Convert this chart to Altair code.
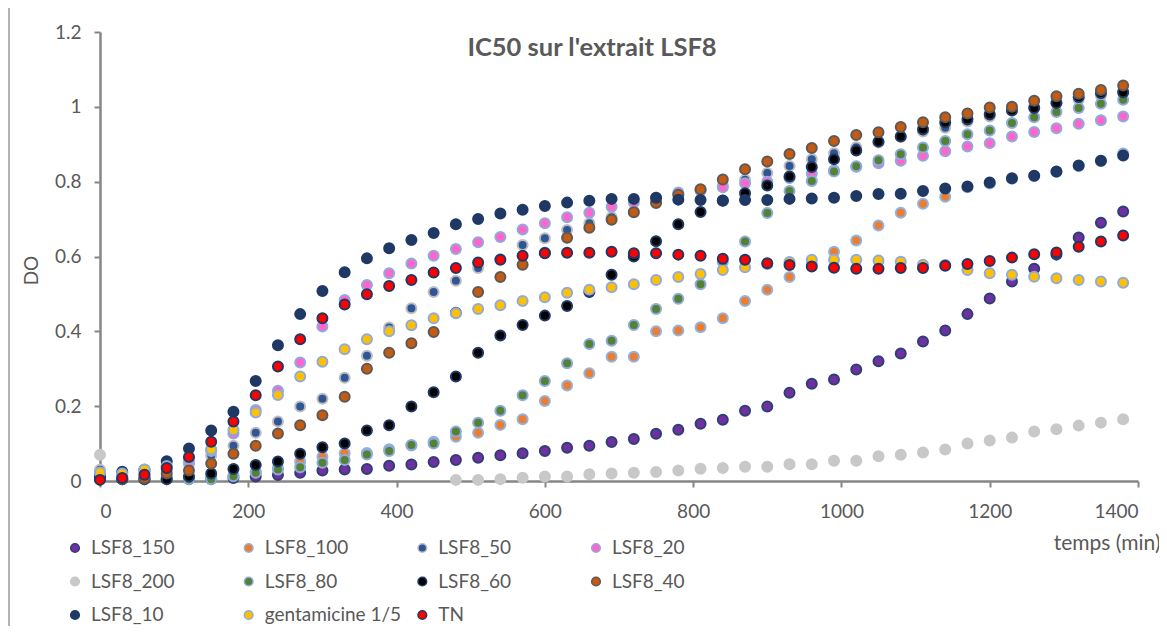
import altair as alt
import pandas as pd

temps = [0, 30, 60, 90, 120, 150, 180, 210, 240, 270,
         300, 330, 360, 390, 420, 450, 480, 510, 540, 570,
         600, 630, 660, 690, 720, 750, 780, 810, 840, 870,
         900, 930, 960, 990, 1020, 1050, 1080, 1110, 1140, 1170,
         1200, 1230, 1260, 1290, 1320, 1350, 1380]

lsf8_150 = [0.01, 0.005, 0.005, 0.005, 0.005, 0.005, 0.008, 0.012, 0.016, 0.022,
            0.028, 0.031, 0.032, 0.041, 0.044, 0.051, 0.056, 0.062, 0.069, 0.074,
            0.08, 0.089, 0.094, 0.104, 0.112, 0.126, 0.137, 0.153, 0.164, 0.188,
            0.199, 0.236, 0.26, 0.271, 0.298, 0.32, 0.341, 0.373, 0.402, 0.446,
            0.488, 0.533, 0.567, 0.605, 0.651, 0.69, 0.72]
lsf8_100 = [0.02, 0.01, 0.01, 0.01, 0.01, 0.01, 0.015, 0.025, 0.035, 0.052,
            0.065, 0.074, 0.075, 0.085, 0.095, 0.105, 0.118, 0.129, 0.15, 0.165,
            0.214, 0.255, 0.288, 0.332, 0.332, 0.40, 0.402, 0.411, 0.435, 0.481,
            0.511, 0.545, 0.58, 0.613, 0.643, 0.683, 0.717, 0.741, 0.76, 0.785,
            0.795, 0.808, 0.815, 0.826, 0.842, 0.855, 0.875]
lsf8_50 = [0.03, 0.02, 0.025, 0.04, 0.045, 0.068, 0.094, 0.129, 0.159, 0.199,
           0.22, 0.276, 0.335, 0.41, 0.462, 0.505, 0.535, 0.569, 0.593, 0.631,
           0.649, 0.671, 0.689, 0.705, 0.72, 0.745, 0.765, 0.775, 0.79, 0.805,
           0.823, 0.842, 0.86, 0.876, 0.892, 0.905, 0.92, 0.934, 0.944, 0.961,
           0.974, 0.99, 1.0, 1.01, 1.02, 1.03, 1.04]
lsf8_20 = [0.02, 0.015, 0.02, 0.03, 0.05, 0.08, 0.127, 0.19, 0.241, 0.317,
           0.413, 0.484, 0.524, 0.555, 0.581, 0.602, 0.62, 0.638, 0.652, 0.672,
           0.689, 0.705, 0.717, 0.733, 0.745, 0.757, 0.771, 0.778, 0.785, 0.796,
           0.80, 0.81, 0.822, 0.83, 0.84, 0.849, 0.856, 0.869, 0.881, 0.894,
           0.903, 0.921, 0.933, 0.943, 0.955, 0.964, 0.974]
lsf8_200 = [0.07, None, None, None, None, None, None, None, None, None,
            None, None, None, None, None, None, 0.003, 0.003, 0.005, 0.009,
            0.012, 0.012, 0.018, 0.02, 0.022, 0.024, 0.028, 0.033, 0.035, 0.038,
            0.038, 0.045, 0.045, 0.054, 0.054, 0.066, 0.07, 0.076, 0.084, 0.1,
            0.108, 0.116, 0.132, 0.138, 0.148, 0.156, 0.165]
lsf8_80 = [0.02, 0.01, 0.01, 0.005, 0.005, 0.005, 0.013, 0.022, 0.031, 0.037,
           0.049, 0.056, 0.071, 0.08, 0.096, 0.1, 0.132, 0.156, 0.188, 0.229,
           0.267, 0.315, 0.366, 0.375, 0.417, 0.46, 0.487, 0.526, 0.585, 0.64,
           0.716, 0.775, 0.802, 0.827, 0.841, 0.857, 0.873, 0.891, 0.909, 0.927,
           0.937, 0.957, 0.972, 0.986, 0.997, 1.008, 1.019]
lsf8_60 = [0.01, 0.005, 0.005, 0.005, 0.012, 0.02, 0.032, 0.043, 0.052, 0.073,
           0.09, 0.1, 0.135, 0.149, 0.199, 0.237, 0.279, 0.343, 0.389, 0.417,
           0.442, 0.468, 0.505, 0.551, 0.60, 0.641, 0.686, 0.719, 0.75, 0.769,
           0.79, 0.814, 0.839, 0.86, 0.883, 0.907, 0.921, 0.94, 0.958, 0.967,
           0.98, 0.99, 0.997, 1.01, 1.026, 1.037, 1.039]
lsf8_40 = [0.01, 0.005, 0.007, 0.02, 0.028, 0.047, 0.073, 0.094, 0.127, 0.149,
           0.176, 0.225, 0.3, 0.343, 0.368, 0.398, 0.45, 0.505, 0.545, 0.578,
           0.61, 0.65, 0.677, 0.698, 0.718, 0.743, 0.765, 0.78, 0.806, 0.833,
           0.854, 0.874, 0.89, 0.909, 0.925, 0.932, 0.946, 0.959, 0.972, 0.982,
           0.998, 1.0, 1.016, 1.028, 1.035, 1.045, 1.057]
lsf8_10 = [0.01, 0.025, 0.03, 0.053, 0.087, 0.135, 0.185, 0.267, 0.363, 0.446,
           0.508, 0.558, 0.595, 0.622, 0.644, 0.663, 0.686, 0.70, 0.715, 0.725,
           0.735, 0.744, 0.749, 0.754, 0.754, 0.757, 0.752, 0.751, 0.749, 0.751,
           0.751, 0.754, 0.755, 0.757, 0.762, 0.767, 0.768, 0.775, 0.782, 0.787,
           0.798, 0.809, 0.816, 0.827, 0.843, 0.856, 0.87]
gentamicine = [0.023, 0.02, 0.031, 0.04, 0.06, 0.085, 0.136, 0.183, 0.23, 0.279,
               0.319, 0.352, 0.379, 0.40, 0.416, 0.435, 0.448, 0.46, 0.47, 0.481,
               0.491, 0.503, 0.511, 0.518, 0.526, 0.537, 0.545, 0.553, 0.564, 0.571,
               0.58, 0.585, 0.591, 0.591, 0.591, 0.589, 0.586, 0.578, 0.577, 0.564,
               0.555, 0.551, 0.546, 0.542, 0.537, 0.533, 0.53]
tn = [0.003, 0.008, 0.017, 0.035, 0.064, 0.105, 0.159, 0.229, 0.306, 0.379,
      0.435, 0.472, 0.499, 0.521, 0.537, 0.557, 0.569, 0.584, 0.591, 0.602,
      0.609, 0.61, 0.61, 0.613, 0.609, 0.609, 0.605, 0.602, 0.594, 0.591,
      0.582, 0.577, 0.573, 0.57, 0.567, 0.567, 0.569, 0.569, 0.575, 0.58,
      0.588, 0.597, 0.606, 0.611, 0.626, 0.64, 0.656]

series_names = ["LSF8_150", "LSF8_100", "LSF8_50", "LSF8_20", "LSF8_200", "LSF8_80",
                "LSF8_60", "LSF8_40", "LSF8_10", "gentamicine 1/5", "TN"]
series_values = [lsf8_150, lsf8_100, lsf8_50, lsf8_20, lsf8_200, lsf8_80,
                 lsf8_60, lsf8_40, lsf8_10, gentamicine, tn]

fill_colors = ["#7030A0", "#ED7D31", "#2F5597", "#FF66CC", "#C8C8C8", "#548235",
               "#000000", "#C55A11", "#1F3864", "#FFC000", "#FF0000"]
stroke_colors = ["#2E3F75", "#8FB4E3", "#BDBDBD", "#8FAADC", "#C8C8C8", "#8FAADC",
                 "#1F3864", "#5A5A5A", "#1F3864", "#8FAADC", "#203864"]
marker_sizes = [100, 100, 100, 100, 150, 100, 100, 100, 150, 100, 100]

rows = []
for name, vals in zip(series_names, series_values):
    for t, v in zip(temps, vals):
        if v is not None:
            rows.append({"serie": name, "temps": t, "DO": v})
df = pd.DataFrame(rows)

# legend table: 4 entries per row, in series order
legend_df = pd.DataFrame({
    "serie": series_names,
    "col": [i % 4 for i in range(len(series_names))],
    "row": [i // 4 for i in range(len(series_names))],
})

FONT = "Lato"
TXT = "#595959"
AX = "#868686"

fill_scale = alt.Scale(domain=series_names, range=fill_colors)
stroke_scale = alt.Scale(domain=series_names, range=stroke_colors)

points = alt.Chart(df).mark_circle(strokeWidth=2, opacity=1).encode(
    x=alt.X("temps:Q", scale=alt.Scale(domain=[0, 1400], nice=False),
            axis=alt.Axis(values=[0, 200, 400, 600, 800, 1000, 1200, 1400],
                          format="d", labelPadding=15,
                          title="temps (min)", titleX=1060, titleY=62,
                          titleAlign="right", titleBaseline="middle",
                          titleFont=FONT, titleFontSize=21, titleFontWeight="normal",
                          titleColor=TXT)),
    y=alt.Y("DO:Q", scale=alt.Scale(domain=[0, 1.2], nice=False),
            axis=alt.Axis(values=[0, 0.2, 0.4, 0.6, 0.8, 1.0, 1.2], format="~g",
                          title="DO", titleX=-69, titleY=238, titleAlign="center",
                          titleBaseline="middle", titleFont=FONT, titleFontSize=19,
                          titleFontWeight="normal", titleColor=TXT)),
    fill=alt.Fill("serie:N", scale=fill_scale, legend=None),
    stroke=alt.Stroke("serie:N", scale=stroke_scale, legend=None),
    size=alt.Size("serie:N", scale=alt.Scale(domain=series_names, range=marker_sizes),
                  legend=None),
)

leg_x = alt.X("col:Q", scale=alt.Scale(domain=[0, 3], range=[-25, 496]), axis=None)
leg_y = alt.Y("row:Q", scale=alt.Scale(domain=[0, 2], range=[516, 583]), axis=None)

legend_marks = alt.Chart(legend_df).mark_circle(size=75, strokeWidth=1.5, opacity=1).encode(
    x=leg_x, y=leg_y,
    fill=alt.Fill("serie:N", scale=fill_scale, legend=None),
    stroke=alt.Stroke("serie:N", scale=stroke_scale, legend=None),
)
legend_text = alt.Chart(legend_df).mark_text(
    align="left", baseline="middle", dx=16, font=FONT, fontSize=19, color=TXT
).encode(x=leg_x, y=leg_y, text="serie:N")

border = alt.Chart(pd.DataFrame({"k": [0]})).mark_rule(color="#9a9a9a", strokeWidth=1.5).encode(
    x=alt.value(-91), y=alt.value(-24), y2=alt.value(600)
)

chart = alt.layer(border, points, legend_marks, legend_text).resolve_scale(
    x="independent", y="independent"
).properties(
    width=1038, height=449,
    autosize=alt.AutoSizeParams(type="none"),
    padding={"left": 92, "top": 24, "right": 21, "bottom": 145},
    title=alt.TitleParams("IC50 sur l'extrait LSF8", font=FONT, fontSize=25.5,
                          fontWeight="bold", color=TXT, anchor="middle", dx=-27,
                          dy=54, offset=0),
).configure_view(stroke=None).configure_axis(
    grid=False, domainColor=AX, domainWidth=2.5, tickColor=AX, tickWidth=2,
    tickSize=6, labelPadding=13, labelFont=FONT, labelFontSize=19, labelColor=TXT,
)

chart.save("out.html", embed_options={"renderer": "svg", "actions": False})
